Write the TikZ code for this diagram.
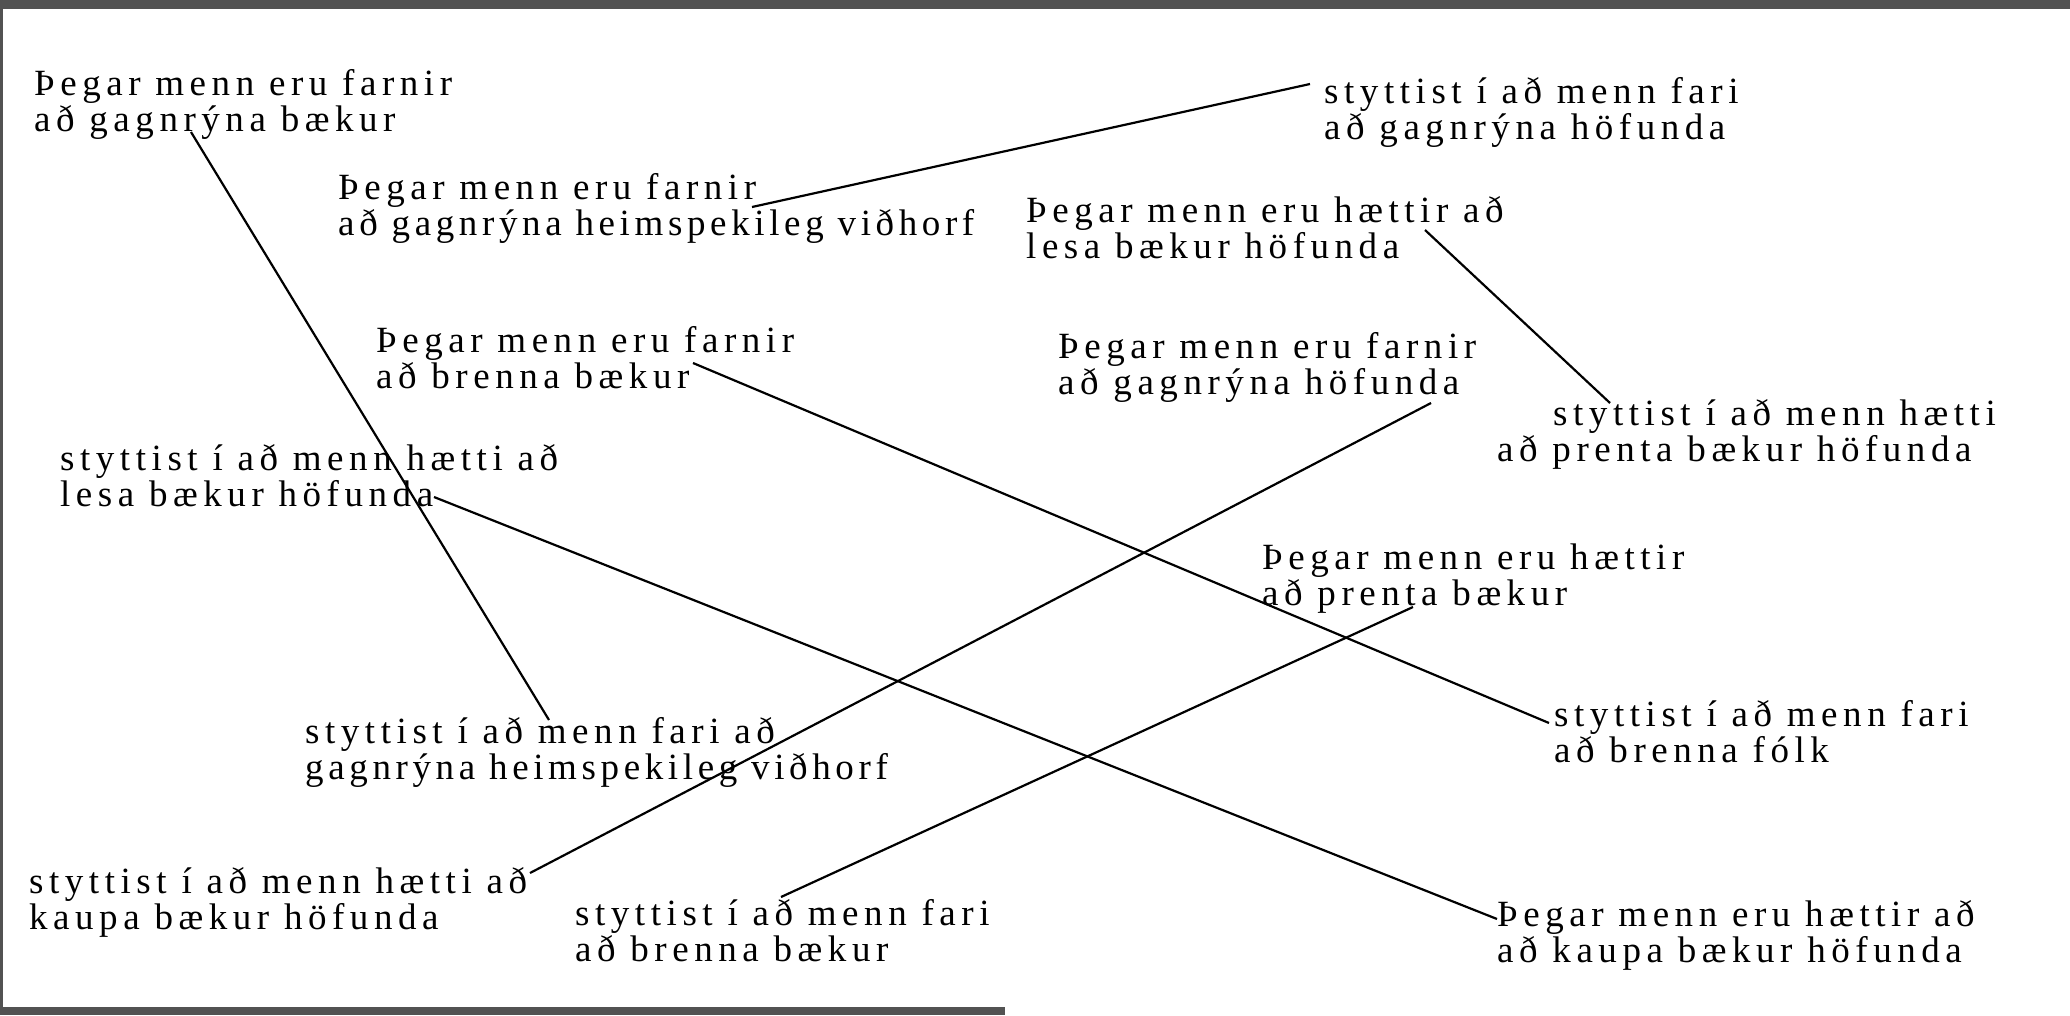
\documentclass[tikz,border=0pt]{standalone}
\usepackage{fontspec}
\setmainfont{Liberation Serif}[LetterSpace=15]
\newfontfamily\tightserif{Liberation Serif}[LetterSpace=12.5]
\begin{document}
\begin{tikzpicture}[x=1pt,y=-1pt,
  lbl/.style={anchor=base west, inner sep=0pt, align=left, font=\fontsize{37}{34}\selectfont},
  conn/.style={line width=2.2pt, black},
  scanedge/.style={fill=black!68}]
\useasboundingbox (0,0) rectangle (2070,1015);
\fill[white] (0,0) rectangle (2070,1015);
% scan edges
\fill[scanedge] (0,0) rectangle (2070,9);
\fill[scanedge] (0,0) rectangle (3,1015);
\fill[scanedge] (0,1007) rectangle (1005,1015);
% texts (position = baseline of the second line)
\node[lbl] (A) at (34,131) {Þegar menn eru farnir\\að gagnrýna bækur};
\node[lbl] (B) at (338,235) {Þegar menn eru farnir\\{\tightserif að gagnrýna heimspekileg viðhorf}};
\node[lbl] (C) at (1324,139) {styttist í að menn fari\\að gagnrýna höfunda};
\node[lbl] (D) at (1026,258) {Þegar menn eru hættir að\\lesa bækur höfunda};
\node[lbl] (E) at (376,388) {Þegar menn eru farnir\\að brenna bækur};
\node[lbl] (F) at (1058,394) {Þegar menn eru farnir\\að gagnrýna höfunda};
\node[lbl] (G) at (1497,461) {\hspace*{56pt}styttist í að menn hætti\\að prenta bækur höfunda};
\node[lbl] (H) at (60,506) {styttist í að menn hætti að\\lesa bækur höfunda};
\node[lbl] (I) at (1262,605) {Þegar menn eru hættir\\að prenta bækur};
\node[lbl] (J) at (305,779) {styttist í að menn fari að\\{\tightserif gagnrýna heimspekileg viðhorf}};
\node[lbl] (K) at (1554,762) {styttist í að menn fari\\að brenna fólk};
\node[lbl] (L) at (29,929) {styttist í að menn hætti að\\kaupa bækur höfunda};
\node[lbl] (M) at (575,961) {styttist í að menn fari\\að brenna bækur};
\node[lbl] (N) at (1497,962) {Þegar menn eru hættir að\\að kaupa bækur höfunda};
% connector ends
\coordinate (a1) at (191,132);  \coordinate (j1) at (549,720);
\coordinate (b1) at (752,207);  \coordinate (c1) at (1310,84);
\coordinate (d1) at (1425,230); \coordinate (g1) at (1610,403);
\coordinate (e1) at (693,363);  \coordinate (k1) at (1549,723);
\coordinate (h1) at (434,497);  \coordinate (n1) at (1497,919);
\coordinate (f1) at (1431,403); \coordinate (l1) at (530,873);
\coordinate (i1) at (1413,607); \coordinate (m1) at (781,897);
% connectors
\draw[conn] (a1) -- (j1);
\draw[conn] (b1) -- (c1);
\draw[conn] (d1) -- (g1);
\draw[conn] (e1) -- (k1);
\draw[conn] (h1) -- (n1);
\draw[conn] (f1) -- (l1);
\draw[conn] (i1) -- (m1);
\end{tikzpicture}
\end{document}
